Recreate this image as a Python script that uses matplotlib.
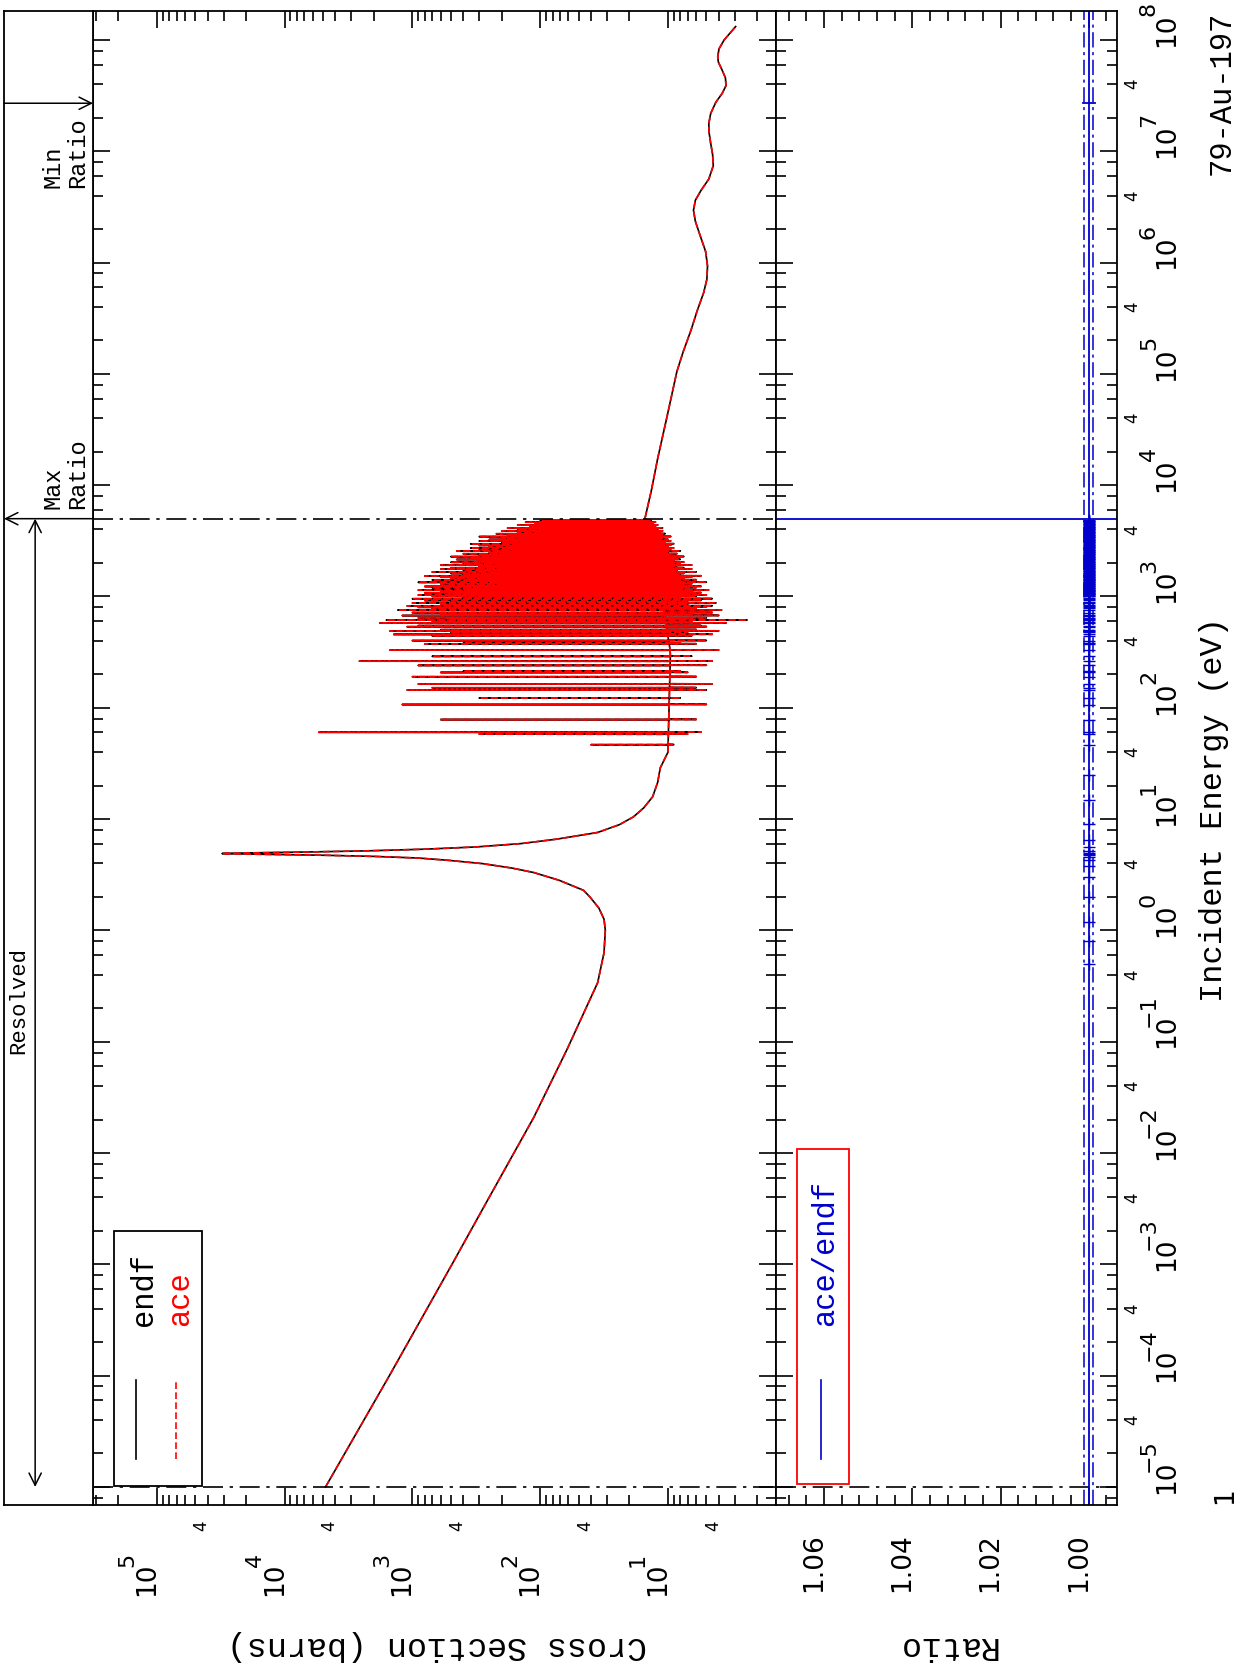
import numpy as np
import matplotlib
matplotlib.use("Agg")
import matplotlib.pyplot as plt
import matplotlib.transforms as mtransforms
from matplotlib.patches import Rectangle
from matplotlib.ticker import LogLocator, MultipleLocator, NullFormatter, NullLocator

# ---------------- data ----------------
low_logE = [-5, -4, -3, -2.4, -1.68, -1.07, -0.47, -0.2, 0.0, 0.1, 0.2, 0.3, 0.36, 0.45, 0.52,
            0.56, 0.60, 0.63, 0.65, 0.665, 0.675, 0.685, 0.6907, 0.696, 0.705, 0.715, 0.73,
            0.75, 0.78, 0.82, 0.88, 0.95, 1.02, 1.1, 1.2, 1.33, 1.46, 1.6]
low_logS = [3.68, 3.18, 2.69, 2.40, 2.05, 1.79, 1.55, 1.50, 1.49, 1.50, 1.54, 1.61, 1.66, 1.85, 2.05,
            2.22, 2.45, 2.72, 2.95, 3.3, 3.68, 4.24, 4.49, 4.3, 3.8, 3.35, 2.9,
            2.5, 2.15, 1.87, 1.55, 1.38, 1.27, 1.19, 1.12, 1.08, 1.06, 1.0]
high_logE = [3.70, 3.95, 4.24, 4.6, 5.02, 5.2, 5.39, 5.57, 5.73, 5.85, 5.97, 6.1, 6.25, 6.37, 6.47,
             6.56, 6.65, 6.75, 6.87, 6.97, 7.07, 7.17, 7.25, 7.34, 7.44, 7.52, 7.59, 7.66,
             7.74, 7.80, 7.85, 7.92, 8.0, 8.06, 8.12]
high_logS = [1.18, 1.13, 1.08, 1.01, 0.93, 0.88, 0.82, 0.77, 0.72, 0.695, 0.69, 0.705, 0.75, 0.785, 0.80,
             0.785, 0.74, 0.68, 0.645, 0.65, 0.665, 0.678, 0.68, 0.665, 0.625, 0.575, 0.545, 0.55,
             0.58, 0.605, 0.61, 0.60, 0.56, 0.515, 0.47]
base_logE = [1.6, 2.5, 3.0, 3.7]
base_logS = [1.0, 0.98, 1.05, 1.18]
res_E = [46.6, 58.0, 60.3, 78.4, 107.0, 122.3, 144.4, 151.3, 163.5, 190.1,
         207.7, 213.0, 240.4, 262.3, 290.0, 329.6, 375.1, 381.0, 401.4, 443.0,
         456.4, 478.2, 490.0, 503.0, 535.0, 547.0, 578.0, 593.0, 613.0, 631.0,
         642.0, 674.0, 688.0, 716.0, 755.0, 783.0, 800.0, 823.0, 847.0, 873.0,
         890.0, 921.0, 954.0, 975.0, 1003, 1030, 1055, 1080, 1110, 1140,
         1170, 1200, 1230, 1265, 1300, 1340, 1380, 1410, 1450, 1490,
         1530, 1570, 1610, 1660, 1710, 1760, 1810, 1860, 1910, 1970,
         2030, 2090, 2150, 2210, 2280, 2350, 2420, 2490, 2560, 2640,
         2720, 2800, 2880, 2970, 3060, 3150, 3250, 3350, 3450, 3550,
         3660, 3770, 3880, 4000, 4120, 4250, 4380, 4510, 4650, 4800]
res_peak = [40, 300, 5400, 600, 1200, 300, 1100, 700, 900, 1000,
            600, 400, 900, 2600, 700, 1500, 800, 400, 1000, 700,
            1400, 500, 1500, 600, 1100, 900, 1800, 700, 1600, 500,
            900, 1200, 600, 1000, 1300, 700, 900, 1100, 600, 1000,
            500, 800, 1000, 400, 700, 900, 500, 800, 600, 900,
            400, 700, 800, 500, 600, 900, 400, 700, 500, 600,
            800, 400, 500, 700, 400, 600, 500, 300, 600, 400,
            500, 300, 450, 350, 500, 300, 400, 250, 450, 300,
            350, 250, 300, 350, 200, 300, 250, 200, 300, 180,
            220, 150, 200, 150, 180, 120, 150, 110, 130, 100]
res_dip = [9, 7, 5.5, 6, 5, 8, 5, 6, 4.5, 6,
           7, 8, 5, 4.5, 6.5, 4, 6, 8, 5, 6.5,
           4.5, 7, 4, 6, 5, 5.5, 3.5, 6.5, 2.4, 7,
           5, 4, 6.5, 4.5, 3.8, 6, 5, 4.5, 7, 4.2,
           7, 5.5, 4.5, 8, 6, 5, 7.5, 5.5, 6.5, 4.8,
           8, 6, 5.5, 7.5, 6.5, 5, 8.5, 6, 7.5, 6.5,
           5.5, 8.5, 7.5, 6, 8.5, 6.5, 7.5, 9, 6.5, 8,
           7.5, 9, 8, 8.5, 7.5, 9.5, 8.5, 10, 8, 9.5,
           9, 10, 9.5, 9, 10.5, 9.5, 10, 11, 9.5, 11,
           10.5, 11.5, 11, 12, 11, 12.5, 12, 13, 12.5, 13.5]
res2_E = [1015, 1045, 1068, 1095, 1125, 1155, 1185, 1215, 1248, 1282,
          1320, 1360, 1395, 1430, 1470, 1510, 1550, 1590, 1635, 1685,
          1735, 1785, 1835, 1885, 1940, 2000, 2060, 2120, 2180, 2245,
          2315, 2385, 2455, 2525, 2600, 2680, 2760, 2840, 2925, 3015,
          3105, 3200, 3300, 3400, 3500, 3605, 3715, 3825, 3940, 4060,
          4185, 4315, 4445, 4580, 4725, 4875]
res2_peak = [300, 200, 400, 250, 350, 200, 300, 250, 400, 200,
             300, 250, 350, 200, 300, 250, 200, 300, 250, 200,
             300, 200, 250, 300, 200, 250, 180, 250, 200, 220,
             180, 200, 160, 220, 150, 200, 160, 180, 150, 170,
             140, 160, 130, 150, 120, 140, 110, 130, 100, 120,
             100, 110, 90, 100, 85, 90]
res2_dip = [7, 8.5, 6, 8, 7, 9, 7.5, 8.5, 6.5, 9,
            7.5, 8.5, 7, 9, 8, 8.5, 9.5, 8, 9, 9.5,
            8.5, 9.5, 9, 8.5, 10, 9.5, 10.5, 9.5, 10, 10,
            10.5, 10, 11, 10, 11, 10.5, 11, 11, 11.5, 11,
            12, 11.5, 12, 12, 12.5, 12, 13, 12.5, 13, 13,
            13.5, 13.5, 14, 14, 14.5, 14.5]
resolved_limits = [1e-5, 5.0e3]
min_ratio_E = 2.7e7
ratio_marker_lowE = [0.5, 0.8, 1.2, 2.0, 3.0, 3.8, 4.3, 4.6, 4.8, 4.9, 5.0, 5.2, 5.6, 6.5, 9.0, 15.0, 25.0]

sig_decades = [5, 4, 3, 2, 1]
ratio_ticks = [1.06, 1.04, 1.02, 1.00]
E_decades = list(range(-5, 9))

# ---------------- build curve ----------------
resE = np.array(res_E + res2_E, float)
resP = np.array(res_peak + res2_peak, float)
resD = np.array(res_dip + res2_dip, float)
order = np.argsort(resE)
resE, resP, resD = resE[order], resP[order], resD[order]
w = 0.003
cE, cS = [], []
for e, p, d in zip(resE, resP, resD):
    b = 10 ** np.interp(np.log10(e), base_logE, base_logS)
    cE += [e * (1 - w), e, e * (1 + w), e * (1 + 2 * w)]
    cS += [b, p, d, b]
E_all = np.concatenate([10 ** np.array(low_logE), cE, 10 ** np.array(high_logE)])
S_all = np.concatenate([10 ** np.array(low_logS), cS, 10 ** np.array(high_logS)])

# ---------------- figure ----------------
W, H = 1236, 1669
fig = plt.figure(figsize=(W / 100, H / 100), dpi=100)

def rect(x0, x1, y0, y1):
    return [x0 / W, 1 - y1 / H, (x1 - x0) / W, (y1 - y0) / H]

ax = fig.add_axes(rect(93, 776, 11, 1505))
axr = fig.add_axes(rect(776, 1117, 11, 1505))
axs = fig.add_axes(rect(4, 93, 11, 1505))

Elo, Ehi = 10 ** -5.162, 10 ** 8.26
for a in (ax, axr, axs):
    a.set_yscale('log')
    a.set_ylim(Elo, Ehi)
    for s in a.spines.values():
        s.set_linewidth(1.3)

ax.set_xscale('log')
ax.set_xlim(10 ** 5.5, 10 ** 0.154)
axr.set_xlim(1.0709, 0.9936)
axs.set_xlim(0, 1)
axs.set_xticks([]); axs.set_yticks([])
axs.yaxis.set_minor_locator(NullLocator())

for a in (ax, axr):
    a.yaxis.set_major_locator(LogLocator(base=10, numticks=30))
    a.yaxis.set_minor_locator(LogLocator(base=10, subs=[2, 4, 6, 8], numticks=30))
    a.tick_params(which='both', direction='in', top=True, bottom=True, left=True, right=True,
                  labelbottom=False, labelleft=False, labeltop=False, labelright=False, width=1.2)
    a.tick_params(which='major', length=12)
    a.tick_params(which='minor', length=7)
    a.yaxis.set_minor_formatter(NullFormatter())
ax.xaxis.set_major_locator(LogLocator(base=10, numticks=30))
ax.xaxis.set_minor_locator(LogLocator(base=10, subs=np.arange(2, 10), numticks=30))
ax.xaxis.set_minor_formatter(NullFormatter())
axr.xaxis.set_major_locator(MultipleLocator(0.02))
axr.xaxis.set_minor_locator(MultipleLocator(0.004))

ax.plot(S_all, E_all, color='black', lw=1.2)
ax.plot(S_all, E_all, color='red', lw=1.2, dashes=(4, 2))

dd = (0, (12, 4, 2, 4))
for e in resolved_limits:
    ax.axhline(e, color='black', lw=1.2, ls=dd)
axr.axhline(resolved_limits[0], color='black', lw=1.2, ls=dd)
blue = '#0000cc'
axr.axhline(resolved_limits[1], color=blue, lw=1.3)

axr.axvline(1.0, color=blue, lw=1.3)
axr.axvline(1.001, color=blue, lw=1.1, ls=(0, (10, 3, 2, 3)))
axr.axvline(0.999, color=blue, lw=1.1, ls=(0, (10, 3, 2, 3)))
axr.plot([1.0014, 0.9986], [min_ratio_E, min_ratio_E], color=blue, lw=1.3)
mkE = ratio_marker_lowE + list(resE)
axr.plot(np.ones(len(mkE)), mkE, '+', color=blue, ms=8, mew=1.0)

mono = 'Liberation Mono'
ap = dict(lw=1.1, color='k', mutation_scale=22, shrinkA=0, shrinkB=0)
axs.annotate('', xy=(0.35, resolved_limits[0]), xytext=(0.35, resolved_limits[1]),
             arrowprops=dict(arrowstyle='<->', **ap))
axs.text(0.17, 10 ** -0.63, 'Resolved', rotation=90, ha='center', va='center', fontsize=16, family=mono)
axs.annotate('', xy=(0.0, resolved_limits[1]), xytext=(1.0, resolved_limits[1]),
             arrowprops=dict(arrowstyle='->', **ap))
axs.annotate('', xy=(1.0, min_ratio_E), xytext=(0.0, min_ratio_E),
             arrowprops=dict(arrowstyle='->', **ap))
axs.text(0.69, 10 ** 3.79, 'Max\nRatio', rotation=90, ha='center', va='bottom', fontsize=17,
         family=mono, multialignment='left', linespacing=1.05)
axs.text(0.69, 10 ** 6.67, 'Min\nRatio', rotation=90, ha='center', va='bottom', fontsize=17,
         family=mono, multialignment='left', linespacing=1.05)

ax.add_patch(Rectangle((0.031, 0.0127), 0.128, 0.171, transform=ax.transAxes, fill=False, ec='k', lw=1.3))
ax.plot([0.063, 0.063], [0.031, 0.084], transform=ax.transAxes, color='k', lw=1.2)
ax.plot([0.121, 0.121], [0.031, 0.084], transform=ax.transAxes, color='red', lw=1.2, dashes=(4, 2))
ax.text(0.074, 0.12, 'endf', transform=ax.transAxes, rotation=90, ha='center', va='bottom',
        fontsize=22, family=mono, color='k')
ax.text(0.128, 0.12, 'ace', transform=ax.transAxes, rotation=90, ha='center', va='bottom',
        fontsize=22, family=mono, color='red')
axr.add_patch(Rectangle((0.062, 0.014), 0.152, 0.224, transform=axr.transAxes, fill=False, ec='red', lw=1.3))
axr.plot([0.132, 0.132], [0.031, 0.084], transform=axr.transAxes, color=blue, lw=1.2)
axr.text(0.144, 0.12, 'ace/endf', transform=axr.transAxes, rotation=90, ha='center', va='bottom',
         fontsize=22, family=mono, color=blue)

tf = 'DejaVu Sans'
def off(tr, dx, dy):
    return tr + mtransforms.ScaledTranslation(dx / 100, dy / 100, fig.dpi_scale_trans)

trx = mtransforms.blended_transform_factory(ax.transData, fig.transFigure)
for k in sig_decades:
    ax.text(10.0 ** k, 1 - 1579 / H, '10', transform=off(trx, -10, 0), rotation=90,
            ha='center', va='center', fontsize=19, family=tf)
    ax.text(10.0 ** k, 1 - 1560 / H, str(k), transform=off(trx, -30, 0), rotation=90,
            ha='center', va='center', fontsize=16, family=tf)
    ax.text(4 * 10.0 ** (k - 1), 1 - 1526 / H, '4', transform=off(trx, -6, 0), rotation=90,
            ha='center', va='center', fontsize=12, family=tf)
trr = mtransforms.blended_transform_factory(axr.transData, fig.transFigure)
for v in ratio_ticks:
    axr.text(v, 1 - 1563 / H, '%.2f' % v, transform=off(trr, -10, 0), rotation=90,
             ha='center', va='center', fontsize=19, family=tf)
tre = mtransforms.blended_transform_factory(fig.transFigure, axr.transData)
for k in E_decades:
    axr.text(1167 / W, 10.0 ** k, '10', transform=off(tre, 0, 10), rotation=90,
             ha='center', va='center', fontsize=19, family=tf, clip_on=False)
    axr.text(1149 / W, 10.0 ** k, str(k).replace('-', '\u2212'), transform=off(tre, 0, 31), rotation=90,
             ha='center', va='center', fontsize=16, family=tf, clip_on=False)
    if k < 8:
        axr.text(1132 / W, 4 * 10.0 ** k, '4', transform=tre, rotation=90,
                 ha='center', va='center', fontsize=12, family=tf, clip_on=False)

fig.text(437 / W, 1 - 1645 / H, 'Cross Section (barns)', rotation=180, ha='center', va='center',
         fontsize=24, family=mono)
fig.text(946 / W, 1 - 1645 / H, 'Ratio', rotation=180, ha='center', va='center', fontsize=24, family=mono)
fig.text(1214 / W, 1 - 809 / H, 'Incident Energy (eV)', rotation=90, ha='center', va='center',
         fontsize=23, family=mono)
fig.text(1222 / W, 1 - 11 / H, '79-Au-197', rotation=90, ha='center', va='top', fontsize=22, family=mono)
fig.text(1225 / W, 1 - 1496 / H, '1', rotation=90, ha='center', va='center', fontsize=19, family=tf)

fig.savefig('out.png', dpi=100)
